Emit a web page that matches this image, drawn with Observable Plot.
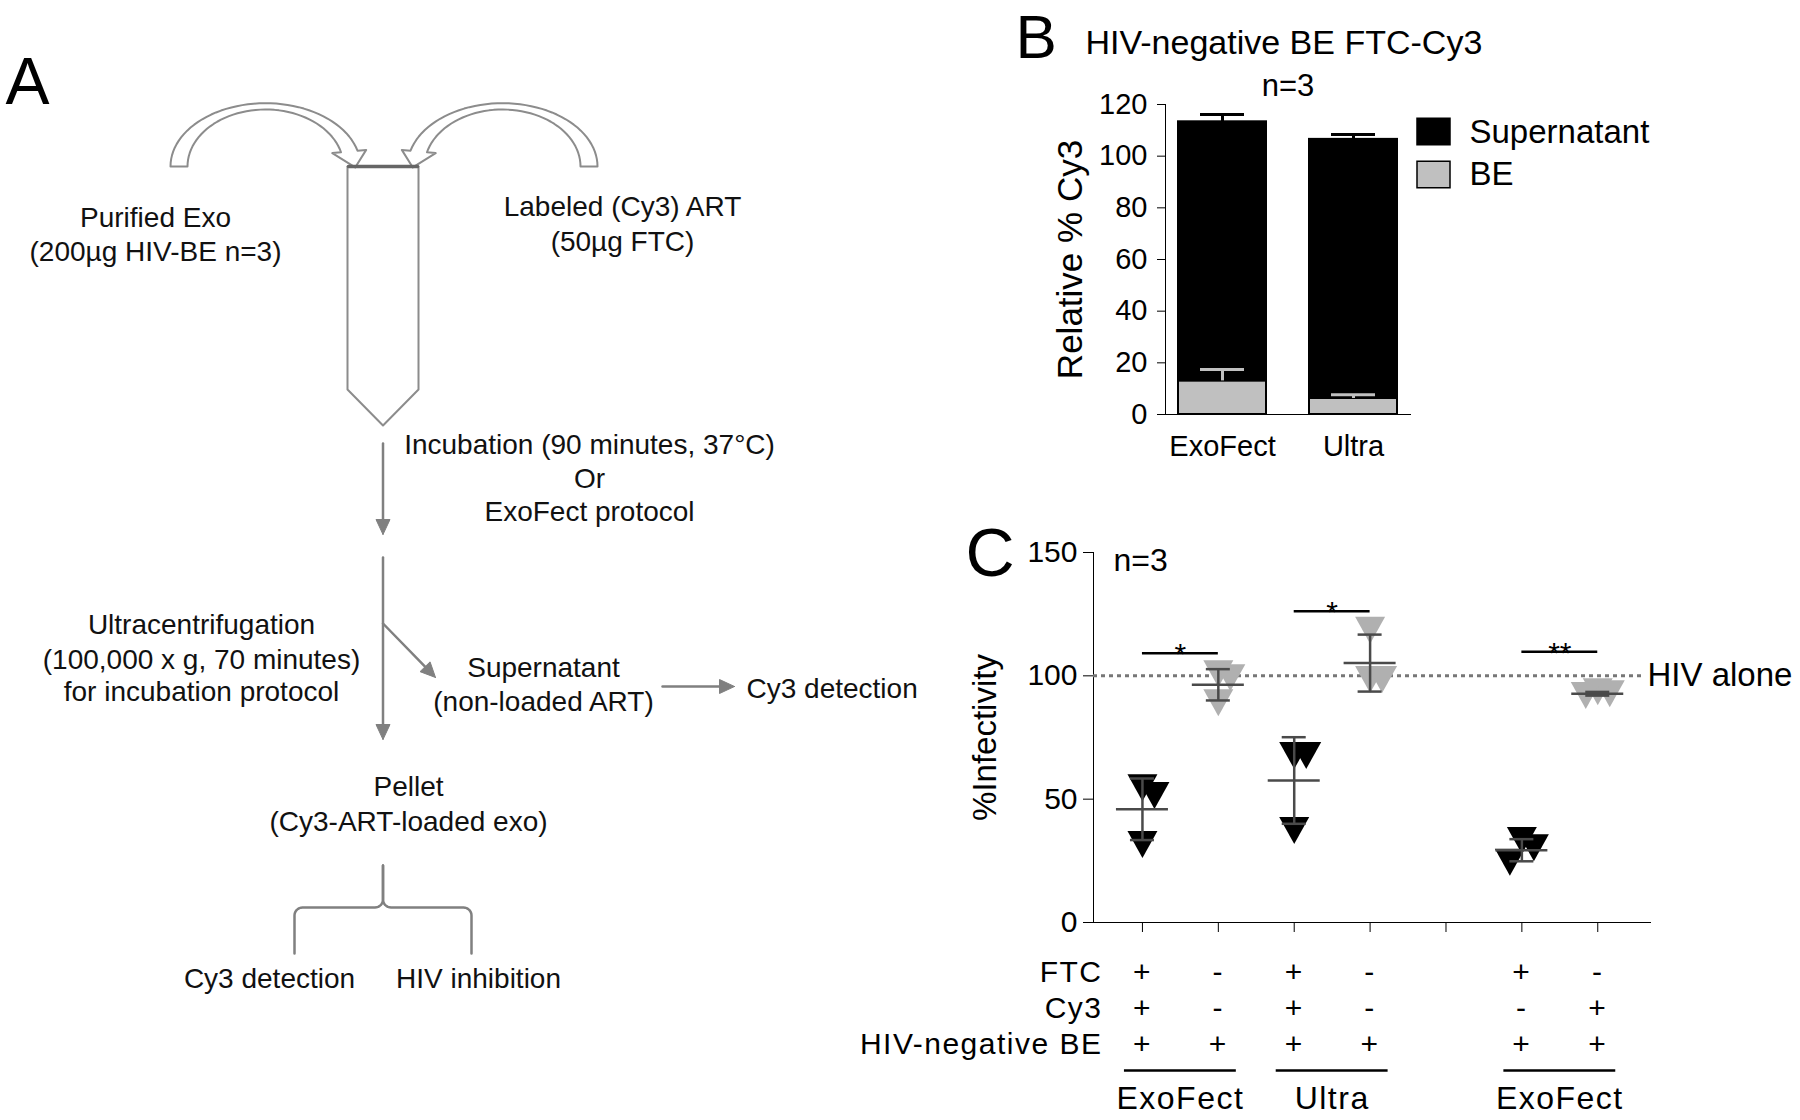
<!DOCTYPE html>
<html><head><meta charset="utf-8">
<script src="https://cdn.jsdelivr.net/npm/d3@7"></script>
<script src="https://cdn.jsdelivr.net/npm/@observablehq/plot@0.6"></script>
<style>
body{margin:0;background:#fff;}
#root{position:relative;width:1800px;height:1120px;background:#fff;overflow:hidden;}
</style></head><body><div id="root"></div>
<script>
// ---------------- DATA ----------------
// Panel B
const methodsB = ["ExoFect", "Ultra"];
const fractionsB = ["Supernatant", "BE"];
const beMean = [13.0, 6.2];
const beErr = [4.4, 1.4];
const supMean = [100.3, 100.3];
const supErr = [2.8, 1.9];
const ticksB = [0, 20, 40, 60, 80, 100, 120];

// Panel C
const groupsC = ["ExoFect FTC-Cy3", "ExoFect BE", "Ultra FTC-Cy3", "Ultra BE", "", "ExoFect FTC", "ExoFect Cy3"];
const infectivity = [
  [54.6, 51.5, 31.6],
  [100.8, 99.2, 89.1],
  [67.7, 67.7, 37.3],
  [118.5, 98.5, 98.5],
  [],
  [33.2, 30.3, 24.4],
  [93.5, 92.7, 92.0]
];
const ticksC = [0, 50, 100, 150];
const hivAlone = 100;
const rowNames = ["FTC", "Cy3", "HIV-negative BE"];
const ftcRow = ["+", "-", "+", "-", "", "+", "-"];
const cy3Row = ["+", "-", "+", "-", "", "-", "+"];
const beRow  = ["+", "+", "+", "+", "", "+", "+"];
const methodLabels = ["ExoFect", "Ultra", "ExoFect"];
const methodSpans = [[0, 1], [2, 3], [5, 6]];
const sigPairs = [[0, 1], [2, 3], [5, 6]];
const sigHeights = [109.2, 126.2, 109.8];
const sigLabels = ["*", "*", "**"];

// Panel A (flow diagram text)
const diagramText = [
  {text: "Purified Exo", x: 155, y: 218},
  {text: "(200µg HIV-BE n=3)", x: 155, y: 252},
  {text: "Labeled (Cy3) ART", x: 622, y: 207},
  {text: "(50µg FTC)", x: 622, y: 242},
  {text: "Incubation (90 minutes, 37°C)", x: 589, y: 445},
  {text: "Or", x: 589, y: 479},
  {text: "ExoFect protocol", x: 589, y: 512},
  {text: "Ultracentrifugation", x: 201, y: 625},
  {text: "(100,000 x g, 70 minutes)", x: 201, y: 660},
  {text: "for incubation protocol", x: 201, y: 692},
  {text: "Supernatant", x: 543, y: 668},
  {text: "(non-loaded ART)", x: 543, y: 702},
  {text: "Pellet", x: 408, y: 787},
  {text: "(Cy3-ART-loaded exo)", x: 408, y: 822},
  {text: "Cy3 detection", x: 269, y: 979},
  {text: "HIV inhibition", x: 478, y: 979}
];
const diagramTextStart = [{text: "Cy3 detection", x: 746, y: 689}];
const arrowsA = [
  {id: "a1", x1: 382.5, y1: 443, x2: 382.5, y2: 534},
  {id: "a2", x1: 382.5, y1: 557, x2: 382.5, y2: 739},
  {id: "a3", x1: 382.5, y1: 623, x2: 435, y2: 677},
  {id: "a4", x1: 662, y1: 686, x2: 734, y2: 686}
];

// ---------------- SETUP ----------------
const FONT = "Liberation Sans, Arial, Helvetica, sans-serif";
const root = document.getElementById("root");
function place(svg, left, top) {
  svg.style.position = "absolute";
  svg.style.left = left + "px";
  svg.style.top = top + "px";
  root.appendChild(svg);
}

// ---------------- PANEL A ----------------
const GRAY = "#808080";
function blockArrow(mirror) {
  const cx = 265, cy = 166, ro = [95, 63.3], ri = [78, 57], rc = [86.5, 60];
  const te = Math.asin((cy - 151) / rc[1]);
  const N = 48, pts = [];
  for (let k = 0; k <= N; k++) {
    const t = Math.PI - (Math.PI - te) * k / N;
    pts.push([cx + ro[0] * Math.cos(t), cy - ro[1] * Math.sin(t)]);
  }
  const c = [cx + rc[0] * Math.cos(te), cy - rc[1] * Math.sin(te)];
  const o = pts[N];
  const ie = [cx + ri[0] * Math.cos(te), cy - ri[1] * Math.sin(te)];
  let nx = o[0] - ie[0], ny = o[1] - ie[1]; const nl = Math.hypot(nx, ny); nx /= nl; ny /= nl;
  let tx = rc[0] * Math.sin(te), ty = rc[1] * Math.cos(te); const tl = Math.hypot(tx, ty); tx /= tl; ty /= tl;
  pts.push([c[0] + 17 * nx, c[1] + 17 * ny]);
  pts.push([c[0] + 17 * tx, c[1] + 17 * ty]);
  pts.push([c[0] - 17 * nx, c[1] - 17 * ny]);
  for (let k = N; k >= 0; k--) {
    const t = Math.PI - (Math.PI - te) * k / N;
    pts.push([cx + ri[0] * Math.cos(t), cy - ri[1] * Math.sin(t)]);
  }
  pts.push(pts[0]);
  return mirror ? pts.map(([x, y]) => [767 - x, y]) : pts;
}
const tube = [[347, 166], [347, 389], [382.5, 425], [418, 389], [418, 166], [347, 166]];
const tubeTop = [[348, 166], [417, 166]];

const shafts = [], heads = [];
for (const a of arrowsA) {
  const L = Math.hypot(a.x2 - a.x1, a.y2 - a.y1);
  const ux = (a.x2 - a.x1) / L, uy = (a.y2 - a.y1) / L;
  const len = 15, hw = 7;
  const bx = a.x2 - len * ux, by = a.y2 - len * uy;
  shafts.push({id: a.id, x: a.x1, y: a.y1}, {id: a.id, x: bx, y: by});
  heads.push({id: a.id, x: a.x2, y: a.y2}, {id: a.id, x: bx - hw * uy, y: by + hw * ux},
             {id: a.id, x: bx + hw * uy, y: by - hw * ux}, {id: a.id, x: a.x2, y: a.y2});
}
function brace(side) {
  const sx = 382.5, yb = 907, xend = side < 0 ? 294 : 471, ybot = 953, r = 8;
  const pts = [[sx, 865], [sx, yb - r]];
  for (let k = 1; k <= 8; k++) { const a = Math.PI / 2 * k / 8; pts.push([sx + side * r - side * r * Math.cos(a), yb - r + r * Math.sin(a)]); }
  pts.push([xend - side * r, yb]);
  for (let k = 1; k <= 8; k++) { const a = Math.PI / 2 * k / 8; pts.push([xend - side * r + side * r * Math.sin(a), yb + r - r * Math.cos(a)]); }
  pts.push([xend, ybot]);
  return pts;
}

const plotA = Plot.plot({
  width: 900, height: 1120, margin: 0,
  x: {type: "identity", axis: null},
  y: {type: "identity", axis: null},
  style: {fontFamily: FONT, background: "transparent", overflow: "visible"},
  marks: [
    Plot.line(blockArrow(false), {fill: "white", stroke: "#8c8c8c", strokeWidth: 2}),
    Plot.line(blockArrow(true), {fill: "white", stroke: "#8c8c8c", strokeWidth: 2}),
    Plot.line(tube, {stroke: "#8c8c8c", strokeWidth: 2}),
    Plot.line(tubeTop, {stroke: "#666", strokeWidth: 3.5}),
    Plot.line(shafts, {x: "x", y: "y", z: "id", stroke: GRAY, strokeWidth: 2.5}),
    Plot.line(heads, {x: "x", y: "y", z: "id", fill: GRAY, stroke: GRAY, strokeWidth: 1}),
    Plot.line(brace(-1), {stroke: GRAY, strokeWidth: 2.5}),
    Plot.line(brace(1), {stroke: GRAY, strokeWidth: 2.5}),
    Plot.text(diagramText, {x: "x", y: "y", text: "text", fontSize: 28, fill: "#111", lineAnchor: "middle"}),
    Plot.text(diagramTextStart, {x: "x", y: "y", text: "text", fontSize: 28, fill: "#111", lineAnchor: "middle", textAnchor: "start"}),
    Plot.text(["A"], {frameAnchor: "top-left", dx: 5, dy: 103, text: d => d, fontSize: 66, lineAnchor: "bottom", textAnchor: "start", fill: "#000"})
  ]
});
place(plotA, 0, 0);

// ---------------- PANEL B ----------------
const rowsB = methodsB.flatMap((m, i) => [
  {method: m, fraction: "BE", value: beMean[i], base: 0, err: beErr[i]},
  {method: m, fraction: "Supernatant", value: supMean[i], base: beMean[i], err: supErr[i]}
]);
const rectSym = {draw(ctx, size) { const r = Math.sqrt(size / Math.PI); ctx.rect(-r, -0.8 * r, 2 * r, 1.6 * r); }};
const plotB = Plot.plot({
  width: 900, height: 480,
  marginLeft: 265, marginRight: 390, marginTop: 104, marginBottom: 66,
  x: {domain: methodsB, paddingInner: 0.33, paddingOuter: 0.1, line: true, tickSize: 0, tickPadding: 21, label: null},
  y: {domain: [0, 120], ticks: ticksB, line: true, tickSize: 8, tickPadding: 10, label: null},
  color: {domain: fractionsB, range: ["#000", "#c0c0c0"]},
  style: {fontFamily: FONT, fontSize: "29px", background: "transparent", overflow: "visible", color: "#000"},
  marks: [
    Plot.barY(rowsB, {x: "method", y: "value", fill: "fraction", stroke: "#000", strokeWidth: 2}),
    Plot.ruleX(rowsB, {x: "method", y1: d => d.base + d.value, y2: d => d.base + d.value + d.err, stroke: "fraction", strokeWidth: 3}),
    Plot.tickY(rowsB, {x: "method", y: d => d.base + d.value + d.err, stroke: "fraction", strokeWidth: 3, insetLeft: 22, insetRight: 22}),
    Plot.dot(["Supernatant"], {frameAnchor: "top-left", dx: 268, dy: 27, fill: d => d, stroke: "#000", strokeWidth: 1.5, symbol: rectSym, r: 16.5}),
    Plot.dot(["BE"], {frameAnchor: "top-left", dx: 268, dy: 70, fill: d => d, stroke: "#000", strokeWidth: 1.5, symbol: rectSym, r: 16.5}),
    Plot.text(["Supernatant"], {frameAnchor: "top-left", dx: 304, dy: 28, text: d => d, fontSize: 33, textAnchor: "start", lineAnchor: "middle"}),
    Plot.text(["BE"], {frameAnchor: "top-left", dx: 304, dy: 70, text: d => d, fontSize: 33, textAnchor: "start", lineAnchor: "middle"}),
    Plot.text(["B"], {frameAnchor: "top-left", dx: -150, dy: -47, text: d => d, fontSize: 62, textAnchor: "start", lineAnchor: "bottom"}),
    Plot.text(["HIV-negative BE FTC-Cy3"], {frameAnchor: "top-left", dx: -80, dy: -51, text: d => d, fontSize: 34, textAnchor: "start", lineAnchor: "bottom"}),
    Plot.text(["n=3"], {frameAnchor: "top", dy: -9, text: d => d, fontSize: 31, lineAnchor: "bottom"}),
    Plot.text(["Relative % Cy3"], {frameAnchor: "left", dx: -95, rotate: -90, text: d => d, fontSize: 35, textAnchor: "middle", lineAnchor: "middle"})
  ]
});
place(plotB, 900, 0);

// ---------------- PANEL C ----------------
const C = {width: 900, height: 460, marginLeft: 193, marginRight: 150, marginTop: 72, marginBottom: 18};
const xDomainC = [0.355, 7.695];
const slotTicks = groupsC.map((g, i) => i + 1);
const pxX = (C.width - C.marginLeft - C.marginRight) / (xDomainC[1] - xDomainC[0]);
const pxY = (C.height - C.marginTop - C.marginBottom) / (ticksC[ticksC.length - 1] - ticksC[0]);
const pointsC = [];
infectivity.forEach((vals, gi) => {
  const placed = [];
  [...vals].sort((a, b) => b - a).forEach(v => {
    const taken = placed.filter(p => Math.abs(p.v - v) * pxY < 28).map(p => p.k);
    const k = [0, 1, -1, 2, -2].find(c => !taken.includes(c));
    placed.push({v, k});
    pointsC.push({slot: gi + 1, value: v, off: k, ftc: ftcRow[gi]});
  });
});
const statsC = infectivity.map((vals, gi) => vals.length ? {slot: gi + 1, mean: d3.mean(vals), sd: d3.deviation(vals)} : null).filter(Boolean);
const capsC = statsC.flatMap(d => [{slot: d.slot, y: d.mean - d.sd}, {slot: d.slot, y: d.mean + d.sd}]);
const sigC = sigPairs.map((p, i) => ({a: p[0] + 1, b: p[1] + 1, h: sigHeights[i], label: sigLabels[i]}));
const triDown = {draw(ctx, size) { const r = Math.sqrt(size / Math.PI); ctx.moveTo(-r, -0.9 * r); ctx.lineTo(r, -0.9 * r); ctx.lineTo(0, 0.9 * r); ctx.closePath(); }};
const ERR = "#4a4a4a";

const plotC = Plot.plot({
  ...C,
  x: {domain: xDomainC, ticks: slotTicks, tickFormat: () => "", tickSize: 10, line: true, label: null},
  y: {domain: [0, 150], ticks: ticksC, tickSize: 10, tickPadding: 6, line: true, label: null},
  color: {domain: ["+", "-"], range: ["#000", "#b0b0b0"]},
  style: {fontFamily: FONT, fontSize: "30px", background: "transparent", overflow: "visible", color: "#000"},
  marks: [
    Plot.ruleY([hivAlone], {stroke: "#777", strokeWidth: 3, strokeDasharray: "4,4", insetRight: 7}),
    Plot.dot(pointsC, {x: d => d.slot + d.off * 12 / pxX, y: "value", fill: "ftc", symbol: triDown, r: 15}),
    Plot.ruleX(statsC, {x: "slot", y1: d => d.mean - d.sd, y2: d => d.mean + d.sd, stroke: ERR, strokeWidth: 2.5}),
    Plot.ruleY(statsC, {y: "mean", x1: d => d.slot - 26 / pxX, x2: d => d.slot + 26 / pxX, stroke: ERR, strokeWidth: 2.5}),
    Plot.ruleY(capsC, {y: "y", x1: d => d.slot - 12 / pxX, x2: d => d.slot + 12 / pxX, stroke: ERR, strokeWidth: 2.5}),
    Plot.ruleY(sigC, {y: "h", x1: "a", x2: "b", stroke: "#000", strokeWidth: 2.5}),
    Plot.text(sigC, {x: d => (d.a + d.b) / 2, y: "h", text: "label", fontSize: 30, lineAnchor: "bottom", dy: 11}),
    Plot.text([hivAlone], {y: d => d, frameAnchor: "right", dx: -3, text: () => "HIV alone", fontSize: 33, textAnchor: "start", lineAnchor: "middle"}),
    Plot.text(["C"], {frameAnchor: "top-left", dx: -128, dy: 23, text: d => d, fontSize: 68, textAnchor: "start", lineAnchor: "bottom"}),
    Plot.text(["n=3"], {frameAnchor: "top-left", dx: 20, dy: 18, text: d => d, fontSize: 32, textAnchor: "start", lineAnchor: "bottom"}),
    Plot.text(["%Infectivity"], {frameAnchor: "left", dx: -108, rotate: -90, text: d => d, fontSize: 33, textAnchor: "middle", lineAnchor: "middle"})
  ]
});
place(plotC, 900, 480);

// ---------------- PANEL C TABLE ----------------
const rowSigns = [ftcRow, cy3Row, beRow];
const signsTable = rowNames.flatMap((r, ri) => groupsC.map((g, gi) => ({row: r, slot: gi + 1, sign: rowSigns[ri][gi]}))).filter(d => d.sign);
const methodsTable = methodLabels.map((m, i) => ({label: m, a: methodSpans[i][0] + 1, b: methodSpans[i][1] + 1}));
const plotT = Plot.plot({
  width: 900, height: 180, marginLeft: C.marginLeft, marginRight: C.marginRight, marginTop: 32, marginBottom: 76,
  x: {domain: xDomainC, axis: null},
  y: {type: "point", domain: rowNames, padding: 0, axis: null},
  style: {fontFamily: FONT, fontSize: "30px", background: "transparent", overflow: "visible", color: "#000"},
  marks: [
    Plot.text(signsTable, {x: "slot", y: "row", text: "sign", fontSize: 30, lineAnchor: "middle"}),
    Plot.text(rowNames, {y: d => d, frameAnchor: "left", dx: 9, text: d => d, fontSize: 30, textAnchor: "end", lineAnchor: "middle"}),
    Plot.ruleY(methodsTable, {y: () => rowNames[2], x1: d => d.a - 18 / pxX, x2: d => d.b + 18 / pxX, dy: 26, stroke: "#000", strokeWidth: 2.5}),
    Plot.text(methodsTable, {x: d => (d.a + d.b) / 2, y: () => rowNames[2], dy: 54, text: "label", fontSize: 32, lineAnchor: "middle"})
  ]
});
d3.select(plotT).selectAll("text").style("letter-spacing", "1.5px");
place(plotT, 900, 940);
</script></body></html>
